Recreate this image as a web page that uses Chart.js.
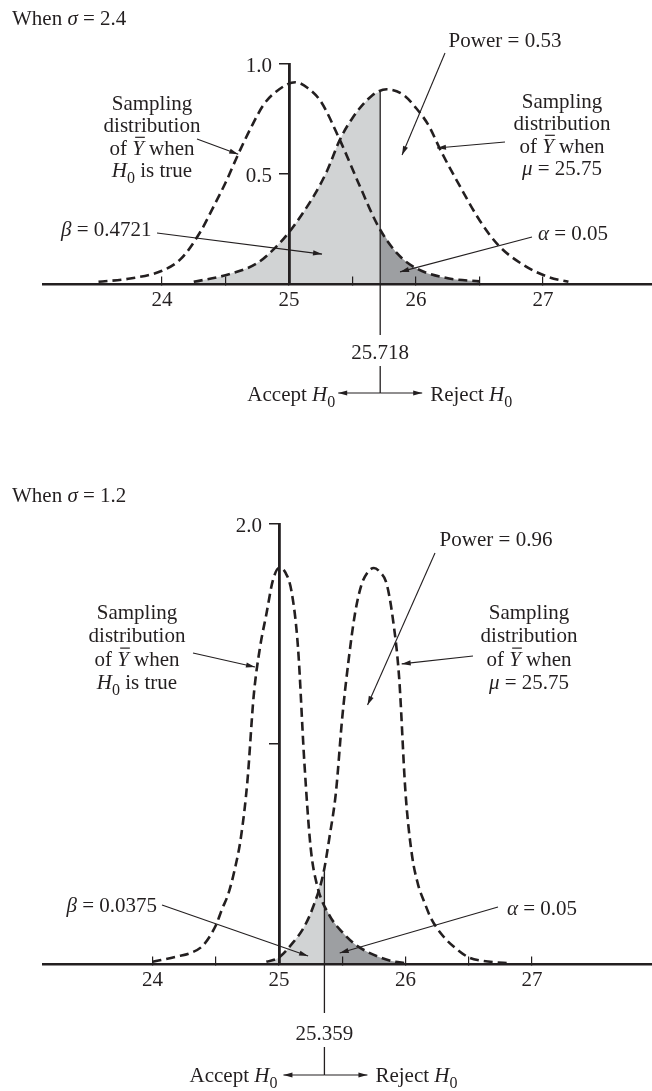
<!DOCTYPE html>
<html lang="en">
<head>
<meta charset="UTF-8">
<title>Power of the test, sigma = 2.4 and sigma = 1.2</title>
<script src="https://cdn.jsdelivr.net/npm/chart.js"></script>
<style>
  body { margin: 0; background: #fff; }
  .wrap { position: relative; width: 652px; height: 1091px; }
  canvas { position: absolute; left: 0; }
  #chartTop { top: 0; }
  #chartBottom { top: 460px; }
</style>
</head>
<body>
<div class="wrap">
  <canvas id="chartTop" width="652" height="440"></canvas>
  <canvas id="chartBottom" width="652" height="631"></canvas>
</div>
<script>
// values
const xTicks = [24, 24.5, 25, 25.5, 26, 26.5, 27];
const xTickLabels = ['24', '', '25', '', '26', '', '27'];

// top panel (sigma = 2.4)
const topH0X = [23.5, 23.75, 24.0, 24.15, 24.3, 24.4, 24.5, 24.6, 24.7, 24.8, 24.9, 25.05, 25.15, 25.25, 25.4, 25.55, 25.7, 25.85, 26.0, 26.25, 26.5];
const topH0Y = [0.01, 0.025, 0.06, 0.115, 0.235, 0.345, 0.46, 0.59, 0.71, 0.815, 0.875, 0.917, 0.89, 0.83, 0.655, 0.455, 0.265, 0.14, 0.072, 0.026, 0.012];
const topH1X = [24.25, 24.5, 24.75, 24.9, 25.0, 25.1, 25.2, 25.3, 25.4, 25.5, 25.65, 25.77, 25.9, 26.0, 26.1, 26.2, 26.35, 26.5, 26.65, 26.85, 27.05, 27.2];
const topH1Y = [0.01, 0.04, 0.095, 0.17, 0.235, 0.315, 0.405, 0.515, 0.655, 0.755, 0.855, 0.885, 0.86, 0.80, 0.72, 0.60, 0.44, 0.29, 0.175, 0.085, 0.03, 0.01];
const topCrit = 25.718;
const topCritH0 = 0.25;   // height of H0 curve at the cut-off
const topCritH1 = 0.875;  // height of H1 curve at the cut-off
const topYTicks = [0.5, 1.0];
const topYLabels = ['0.5', '1.0'];

// bottom panel (sigma = 1.2)
const botH0X = [24.0, 24.2, 24.3, 24.4, 24.5, 24.55, 24.6, 24.65, 24.7, 24.75, 24.8, 24.85, 24.9, 24.95, 25.0, 25.05, 25.1, 25.15, 25.2, 25.25, 25.3, 25.4, 25.5, 25.6, 25.7, 25.8, 25.9, 26.0];
const botH0Y = [0.01, 0.035, 0.05, 0.085, 0.175, 0.25, 0.32, 0.43, 0.58, 0.83, 1.22, 1.44, 1.59, 1.74, 1.80, 1.78, 1.69, 1.44, 0.92, 0.53, 0.36, 0.22, 0.145, 0.09, 0.055, 0.03, 0.012, 0.004];
const botH1X = [24.9, 25.0, 25.1, 25.2, 25.27, 25.35, 25.4, 25.45, 25.5, 25.55, 25.6, 25.65, 25.7, 25.75, 25.8, 25.85, 25.9, 25.95, 26.0, 26.05, 26.1, 26.15, 26.2, 26.3, 26.4, 26.5, 26.6, 26.8];
const botH1Y = [0.01, 0.03, 0.09, 0.17, 0.26, 0.41, 0.58, 0.78, 1.12, 1.38, 1.59, 1.72, 1.78, 1.80, 1.78, 1.73, 1.57, 1.30, 0.78, 0.50, 0.36, 0.28, 0.21, 0.125, 0.07, 0.03, 0.015, 0.004];
const botCrit = 25.359;
const botCritH0 = 0.27;
const botCritH1 = 0.42;
const botYTicks = [1.0, 2.0];
const botYLabels = ['', '2.0'];

const INK = '#231f20';
const LIGHT = '#d1d3d4';
const DARK = '#9d9fa2';
const SERIF = '"Liberation Serif", "Times New Roman", serif';

function pts(xs, ys) { return xs.map((x, i) => ({ x: x, y: ys[i] })); }
function leftOf(xs, ys, c, yc) { return pts(xs, ys).filter(p => p.x < c).concat([{ x: c, y: yc }]); }
function rightOf(xs, ys, c, yc) { return [{ x: c, y: yc }].concat(pts(xs, ys).filter(p => p.x > c)); }

// ---- little text helpers (italic, subscript, overline) ----
function setFont(ctx, st) {
  const size = st === 'sub' ? 16 : 21;
  const it = (st === 'i' || st === 'iov') ? 'italic ' : '';
  ctx.font = it + size + 'px ' + SERIF;
}
function richWidth(ctx, parts) {
  let w = 0;
  parts.forEach(p => { setFont(ctx, p[1]); w += ctx.measureText(p[0]).width; });
  return w;
}
function drawRich(ctx, parts, x, y, align) {
  const w = richWidth(ctx, parts);
  let cx = align === 'center' ? x - w / 2 : (align === 'right' ? x - w : x);
  ctx.textAlign = 'left';
  ctx.textBaseline = 'alphabetic';
  parts.forEach(p => {
    setFont(ctx, p[1]);
    const tw = ctx.measureText(p[0]).width;
    ctx.fillText(p[0], cx, y + (p[1] === 'sub' ? 6 : 0));
    if (p[1] === 'iov') {
      ctx.lineWidth = 1.2;
      ctx.beginPath();
      ctx.moveTo(cx + 3, y - 17.5);
      ctx.lineTo(cx + tw + 1, y - 17.5);
      ctx.stroke();
    }
    cx += tw;
  });
}
function seg(ctx, x1, y1, x2, y2, w) {
  ctx.lineWidth = w;
  ctx.beginPath();
  ctx.moveTo(x1, y1);
  ctx.lineTo(x2, y2);
  ctx.stroke();
}
function arrow(ctx, x1, y1, x2, y2) {
  seg(ctx, x1, y1, x2, y2, 1.1);
  const a = Math.atan2(y2 - y1, x2 - x1);
  const L = 9, H = 2.6;
  ctx.beginPath();
  ctx.moveTo(x2, y2);
  ctx.lineTo(x2 - L * Math.cos(a) + H * Math.sin(a), y2 - L * Math.sin(a) - H * Math.cos(a));
  ctx.lineTo(x2 - L * Math.cos(a) - H * Math.sin(a), y2 - L * Math.sin(a) + H * Math.cos(a));
  ctx.closePath();
  ctx.fill();
}

const ofYbar = [['of ', ''], ['Y', 'iov'], [' when', '']];
const h0True = [['H', 'i'], ['0', 'sub'], [' is true', '']];
const muLine = [['\u03bc', 'i'], [' = 25.75', '']];
const H0sub = [['H', 'i'], ['0', 'sub']];

function notesPlugin(spec) {
  return {
    id: 'notes',
    afterDraw(chart) {
      const ctx = chart.ctx;
      const xs = chart.scales.x, ys = chart.scales.y;
      ctx.save();
      ctx.fillStyle = INK;
      ctx.strokeStyle = INK;

      // y tick labels sit left of the axis drawn at x = 25
      const axisX = xs.getPixelForValue(25);
      ctx.font = '21px ' + SERIF;
      ctx.textAlign = 'right';
      ctx.textBaseline = 'middle';
      ys.ticks.forEach((t, i) => {
        const lab = spec.yLabels[i];
        if (lab) ctx.fillText(lab, axisX - 17, ys.getPixelForValue(t.value) + 2);
      });

      spec.texts.forEach(t => t.lines.forEach((ln, i) => drawRich(ctx, ln, t.x, t.y + i * t.lh, t.align)));
      spec.arrows.forEach(a => arrow(ctx, a.from[0], a.from[1], xs.getPixelForValue(a.to[0]), ys.getPixelForValue(a.to[1])));

      // cut-off marker under the axis
      const k = spec.cut;
      const cx = xs.getPixelForValue(spec.crit);
      seg(ctx, cx, ys.getPixelForValue(0), cx, k.lineEnd, 1.3);
      drawRich(ctx, [[String(spec.crit), '']], cx, k.labelY, 'center');
      seg(ctx, cx, k.segTop, cx, k.segBot, 1.3);
      arrow(ctx, cx, k.segBot, cx - k.left, k.segBot);
      arrow(ctx, cx, k.segBot, cx + k.right, k.segBot);
      drawRich(ctx, [['Accept ', '']].concat(H0sub), cx - k.acceptGap, k.textY, 'right');
      drawRich(ctx, [['Reject ', '']].concat(H0sub), cx + k.rejectGap, k.textY, 'left');
      ctx.restore();
    }
  };
}

function buildDatasets(h0x, h0y, h1x, h1y, c, cH0, cH1) {
  const fillBase = { borderWidth: 0, borderColor: 'rgba(0,0,0,0)', pointRadius: 0, cubicInterpolationMode: 'monotone', fill: 'origin', order: 3 };
  const curve = { borderColor: INK, borderWidth: 2.6, borderDash: [9, 5], pointRadius: 0, cubicInterpolationMode: 'monotone', fill: false, order: 1 };
  return [
    Object.assign({}, fillBase, { data: leftOf(h1x, h1y, c, cH1), backgroundColor: LIGHT }),
    Object.assign({}, fillBase, { data: rightOf(h0x, h0y, c, cH0), backgroundColor: DARK }),
    { data: [{ x: c, y: 0 }, { x: c, y: cH1 }], borderColor: INK, borderWidth: 1.3, pointRadius: 0, fill: false, order: 2 },
    Object.assign({}, curve, { data: pts(h0x, h0y) }),
    Object.assign({}, curve, { data: pts(h1x, h1y) })
  ];
}

function makeChart(id, o) {
  const font = { family: SERIF, size: 21 };
  return new Chart(document.getElementById(id), {
    type: 'line',
    data: { datasets: buildDatasets(o.h0x, o.h0y, o.h1x, o.h1y, o.crit, o.cH0, o.cH1) },
    options: {
      responsive: false,
      animation: false,
      events: [],
      layout: { padding: o.padding },
      plugins: { legend: { display: false }, tooltip: { enabled: false } },
      scales: {
        x: {
          type: 'linear', min: o.xMin, max: o.xMax,
          position: { y: 0 },
          afterBuildTicks: s => { s.ticks = xTicks.map(v => ({ value: v })); },
          ticks: { autoSkip: false, maxRotation: 0, padding: 13, color: INK, font: font,
                   callback: (v, i) => xTickLabels[i] },
          grid: { drawOnChartArea: false, tickLength: -9, color: INK, lineWidth: 1.2, z: 1 },
          border: { color: INK, width: 2.5, z: 1 }
        },
        y: {
          type: 'linear', min: 0, max: o.yMax,
          position: { x: 25 },
          afterBuildTicks: s => { s.ticks = o.yTicks.map(v => ({ value: v })); },
          ticks: { display: false, autoSkip: false },
          grid: { drawOnChartArea: false, tickLength: 9, color: INK, lineWidth: 1.5, z: 1 },
          border: { color: INK, width: 2.8, z: 1 }
        }
      }
    },
    plugins: [notesPlugin(Object.assign({ yLabels: o.yLabels }, o.notes))]
  });
}

makeChart('chartTop', {
  h0x: topH0X, h0y: topH0Y, h1x: topH1X, h1y: topH1Y,
  crit: topCrit, cH0: topCritH0, cH1: topCritH1,
  xMin: 23.063, xMax: 27.858, yMax: 1.0,
  yTicks: topYTicks, yLabels: topYLabels,
  padding: { left: 43, right: 0, top: 64, bottom: 156 },
  notes: {
    crit: topCrit,
    texts: [
      { x: 12, y: 25, lh: 0, align: 'left', lines: [[['When ', ''], ['\u03c3', 'i'], [' = 2.4', '']]] },
      { x: 152, y: 110, lh: 22.4, align: 'center', lines: [[['Sampling', '']], [['distribution', '']], ofYbar, h0True] },
      { x: 562, y: 108, lh: 22.4, align: 'center', lines: [[['Sampling', '']], [['distribution', '']], ofYbar, muLine] },
      { x: 505, y: 47, lh: 0, align: 'center', lines: [[['Power = 0.53', '']]] },
      { x: 61, y: 236, lh: 0, align: 'left', lines: [[['\u03b2', 'i'], [' = 0.4721', '']]] },
      { x: 538, y: 240, lh: 0, align: 'left', lines: [[['\u03b1', 'i'], [' = 0.05', '']]] }
    ],
    arrows: [
      { from: [197, 139], to: [24.60, 0.59] },
      { from: [157, 233], to: [25.26, 0.136] },
      { from: [445, 53], to: [25.89, 0.586] },
      { from: [505, 142], to: [26.165, 0.618] },
      { from: [532, 237], to: [25.874, 0.055] }
    ],
    cut: { lineEnd: 335, labelY: 359, segTop: 366, segBot: 393, left: 42, right: 42,
           acceptGap: 45, rejectGap: 50, textY: 401 }
  }
});

makeChart('chartBottom', {
  h0x: botH0X, h0y: botH0Y, h1x: botH1X, h1y: botH1Y,
  crit: botCrit, cH0: botCritH0, cH1: botCritH1,
  xMin: 23.134, xMax: 27.949, yMax: 2.0,
  yTicks: botYTicks, yLabels: botYLabels,
  padding: { left: 43, right: 0, top: 64, bottom: 127 },
  notes: {
    crit: botCrit,
    texts: [
      { x: 12, y: 42, lh: 0, align: 'left', lines: [[['When ', ''], ['\u03c3', 'i'], [' = 1.2', '']]] },
      { x: 137, y: 159, lh: 23.3, align: 'center', lines: [[['Sampling', '']], [['distribution', '']], ofYbar, h0True] },
      { x: 529, y: 159, lh: 23.3, align: 'center', lines: [[['Sampling', '']], [['distribution', '']], ofYbar, muLine] },
      { x: 496, y: 86, lh: 0, align: 'center', lines: [[['Power = 0.96', '']]] },
      { x: 157, y: 452, lh: 0, align: 'right', lines: [[['\u03b2', 'i'], [' = 0.0375', '']]] },
      { x: 507, y: 455, lh: 0, align: 'left', lines: [[['\u03b1', 'i'], [' = 0.05', '']]] }
    ],
    arrows: [
      { from: [193, 193], to: [24.81, 1.35] },
      { from: [435, 93], to: [25.70, 1.177] },
      { from: [473, 196], to: [25.97, 1.364] },
      { from: [162, 445], to: [25.23, 0.036] },
      { from: [498, 447], to: [25.48, 0.05] }
    ],
    cut: { lineEnd: 553, labelY: 580, segTop: 587, segBot: 615, left: 41, right: 43,
           acceptGap: 47, rejectGap: 51, textY: 622 }
  }
});
</script>
</body>
</html>
